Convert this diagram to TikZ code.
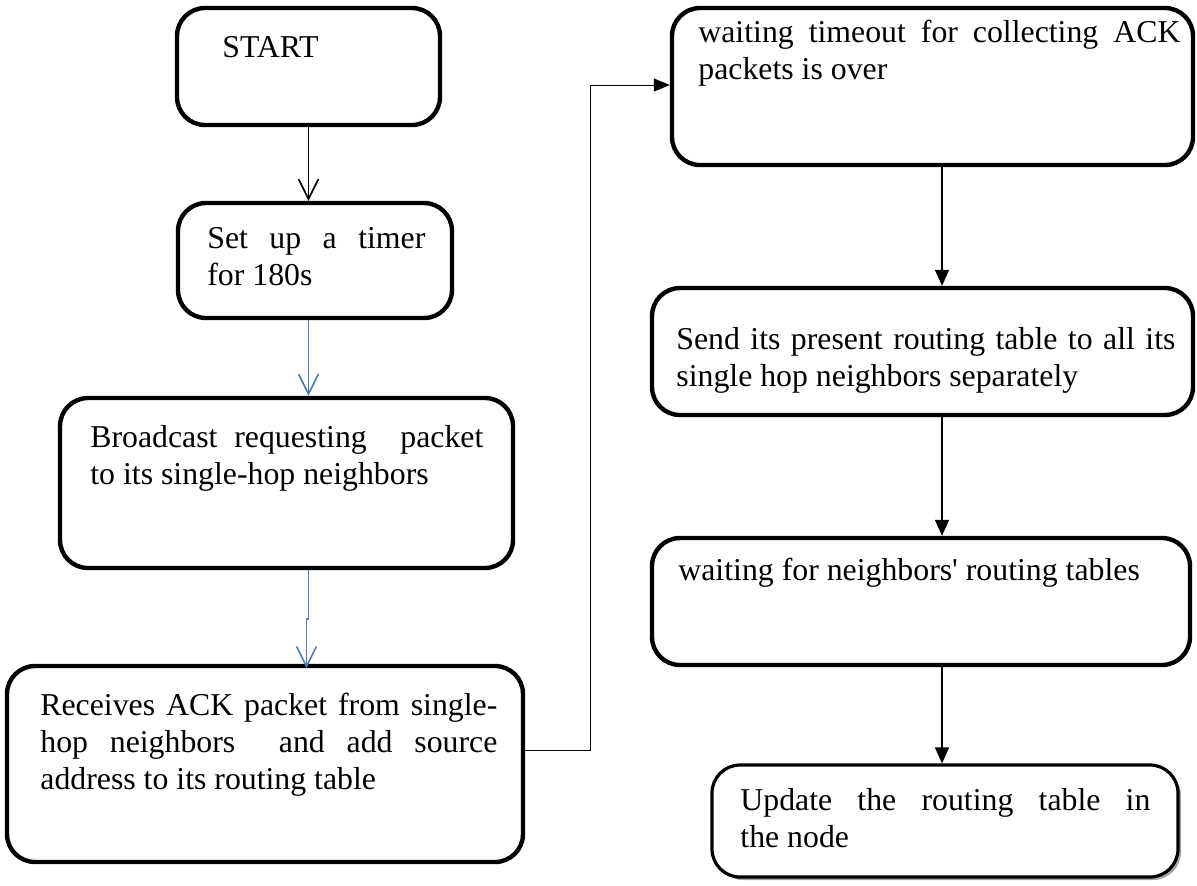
\documentclass[tikz,border=0pt]{standalone}
\usepackage{fontspec}
\setmainfont{Liberation Serif}[Ligatures=TeXOff]
\usetikzlibrary{arrows.meta, shadows}
\definecolor{flowblue}{HTML}{4A7EBB}
\newcommand{\fullline}[1]{\makebox[\linewidth][s]{#1}}

\begin{document}
\begin{tikzpicture}[x=0.5pt, y=-0.5pt,
    box/.style={draw, line width=2.2pt, rounded corners=14pt, inner sep=0pt},
    txt/.style={anchor=base west, inner sep=0pt, align=justify, font=\fontsize{15.9}{18.5}\selectfont},
    openarr/.style={line width=0.8pt, -{Straight Barb[length=10pt, width=10pt]}},
    fillarr/.style={line width=0.75pt, -{Triangle[length=8pt, width=7pt]}}]
    \useasboundingbox (0,0) rectangle (1197,885);

    % Left column
    \node[box, minimum width=131.5pt, minimum height=58.5pt] (start) at (308.5,66.5) {};
    \node[txt] (startT) at (222,57) {START};

    \node[box, minimum width=137pt, minimum height=57.5pt] (timer) at (315,260.5) {};
    \node[txt, text width=109pt] (timerT) at (207,248) {\fullline{Set up a timer}\\ for 180s};

    \node[box, minimum width=226.5pt, minimum height=85pt] (bcast) at (286.5,483) {};
    \node[txt, text width=196.5pt] (bcastT) at (90,447) {\fullline{Broadcast requesting\ \ packet}\\ to its single-hop neighbors};

    \node[box, minimum width=258pt, minimum height=98pt] (recv) at (265,764) {};
    \node[txt, text width=228.5pt] (recvT) at (40,715) {\fullline{Receives ACK packet from single-}\\ \fullline{hop neighbors\ \ and add source}\\ address to its routing table};

    % Right column
    \node[box, minimum width=260.5pt, minimum height=78.5pt] (timeout) at (932.5,86.5) {};
    \node[txt, text width=241pt] (timeoutT) at (698,42) {\fullline{waiting timeout for collecting ACK}\\ packets is over};

    \node[box, minimum width=270.5pt, minimum height=63.5pt] (sendrt) at (922.5,351.5) {};
    \node[txt, text width=249.5pt] (sendrtT) at (676,349) {\fullline{Send its present routing table to all its}\\ single hop neighbors separately};

    \node[box, minimum width=269pt, minimum height=63.5pt] (waitrt) at (921,601.5) {};
    \node[txt] (waitrtT) at (678,580) {waiting for neighbors' routing tables};

    \node[box, line width=1.6pt, fill=white, minimum width=233pt, minimum height=56pt,
          drop shadow={shadow xshift=1.5pt, shadow yshift=-1.5pt, fill=black!35, opacity=1}] (update) at (945,821) {};
    \node[txt, text width=205pt] (updateT) at (740,810) {\fullline{Update the routing table in}\\ the node};

    % Connectors, left column
    \draw[openarr] (start.south) -- (start.south |- timer.north);
    \draw[openarr, flowblue] (start.south |- timer.south) -- (start.south |- bcast.north);
    \draw[openarr, flowblue] (start.south |- bcast.south) -- ++(0,49) -- ++(-2,0) -- ++(0,49);

    % Connector to the right column
    \coordinate (kneeA) at (590,750);
    \coordinate (kneeB) at (590,85);
    \draw[line width=0.5pt, -{Triangle[length=8pt, width=6.5pt]}] (recv.east |- kneeA) -- (kneeA) -- (kneeB) -- (timeout.west |- kneeB);

    % Connectors, right column
    \coordinate (colR) at (942,0);
    \draw[fillarr] (timeout.south -| colR) -- (sendrt.north -| colR);
    \draw[fillarr] (sendrt.south -| colR) -- (waitrt.north -| colR);
    \draw[fillarr] (waitrt.south -| colR) -- (update.north -| colR);
\end{tikzpicture}
\end{document}
